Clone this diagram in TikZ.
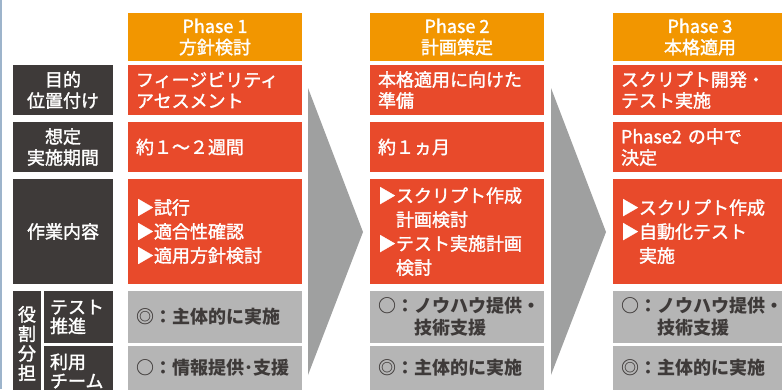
\documentclass[tikz,border=0pt]{standalone}
\usepackage{fontspec}
\setmainfont{Noto Sans CJK JP}
\newfontfamily\medfont[BoldFont={Noto Sans CJK JP}, BoldFeatures={FakeBold=1.6}]{Noto Sans CJK JP}
\definecolor{hdrorange}{HTML}{F29600}
\definecolor{boxred}{HTML}{E84A2B}
\definecolor{darkbox}{HTML}{3E3A39}
\definecolor{graybox}{HTML}{B5B5B5}
\definecolor{arrowgray}{HTML}{9FA0A0}
\definecolor{edgeblue}{HTML}{9DB4CB}
\begin{document}
\begin{tikzpicture}[x=1pt,y=-1pt,
  cellbase/.style={anchor=north west, inner ysep=0pt, outer sep=0pt},
  hdrbox/.style={cellbase, fill=hdrorange, text=white, align=center, minimum width=174pt, minimum height=48pt, inner xsep=0pt, font=\fontsize{18}{21}\selectfont\medfont\bfseries},
  redbox/.style={cellbase, fill=boxred, text=white, align=left, minimum width=174pt, text width=158pt, inner xsep=8pt, font=\fontsize{18}{21}\selectfont\medfont\bfseries},
  redtall/.style={redbox, font=\fontsize{18}{24}\selectfont\medfont\bfseries},
  greybox/.style={cellbase, fill=graybox, text=darkbox, align=left, minimum width=174pt, text width=158pt, inner xsep=8pt, font=\fontsize{18}{22}\selectfont\bfseries},
  labbox/.style={cellbase, fill=darkbox, text=white, align=center, minimum width=100pt, inner xsep=0pt, font=\fontsize{18}{21}\selectfont\medfont\bfseries},
  sublab/.style={cellbase, fill=darkbox, text=white, align=left, minimum width=69pt, text width=57pt, inner xsep=6pt, font=\fontsize{18}{19}\selectfont\medfont\bfseries},
  chevron/.style={fill=arrowgray}
]
\useasboundingbox (0,0) rectangle (782,389);
\clip (0,0) rectangle (782,389);
\fill[white] (0,0) rectangle (782,389);
\fill[edgeblue] (0,0) rectangle (2,389);

% chevrons
\coordinate (c1a) at (308,88); \coordinate (c1b) at (363,232); \coordinate (c1c) at (308,375);
\coordinate (c2a) at (551,88); \coordinate (c2b) at (606,232); \coordinate (c2c) at (551,375);
\fill[chevron] (c1a) -- (c1b) -- (c1c) -- cycle;
\fill[chevron] (c2a) -- (c2b) -- (c2c) -- cycle;

% headers
\node[hdrbox] (h1) at (128,13) {Phase 1\\方針検討};
\node[hdrbox] (h2) at (370,13) {Phase 2\\計画策定};
\node[hdrbox] (h3) at (613,13) {Phase 3\\本格適用};

% label column
\node[labbox, minimum height=50pt] (l1) at (13,65) {目的\\位置付け};
\node[labbox, minimum height=50pt] (l2) at (13,122) {想定\\実施期間};
\node[labbox, minimum height=105pt] (l3) at (13,179) {作業内容};
\node[cellbase, fill=darkbox, text=white, align=center, minimum width=28pt, minimum height=105pt, inner xsep=0pt, font=\fontsize{18}{19.5}\selectfont\medfont\bfseries] (l4) at (13,291) {役\\割\\分\\担};
\node[sublab, minimum height=52pt] (l5) at (44,291) {テスト\\推進};
\node[sublab, minimum height=50pt] (l6) at (44,346) {利用\\チーム};

% phase 1
\node[redbox, minimum height=50pt] (p1r1) at (128,65) {フィージビリティ\\アセスメント};
\node[redbox, minimum height=50pt] (p1r2) at (128,122) {約１～２週間};
\node[redtall, minimum height=105pt] (p1r3) at (128,179) {▶試行\\▶適合性確認\\▶適用方針検討};
\node[greybox, minimum height=52pt] (p1r4) at (128,291) {◎：主体的に実施};
\node[greybox, minimum height=44pt] (p1r5) at (128,346) {○：情報提供･支援};

% phase 2
\node[redbox, minimum height=50pt] (p2r1) at (370,65) {本格適用に向けた\\準備};
\node[redbox, minimum height=50pt] (p2r2) at (370,122) {約１ヵ月};
\node[redtall, minimum height=105pt] (p2r3) at (370,179) {▶スクリプト作成\\　計画検討\\▶テスト実施計画\\　検討};
\node[greybox, minimum height=52pt] (p2r4) at (370,291) {○：ノウハウ提供・\\　　技術支援};
\node[greybox, minimum height=44pt] (p2r5) at (370,346) {◎：主体的に実施};

% phase 3
\node[redbox, minimum height=50pt] (p3r1) at (613,65) {スクリプト開発・\\テスト実施};
\node[redbox, minimum height=50pt] (p3r2) at (613,122) {Phase2 の中で\\決定};
\node[redtall, minimum height=105pt] (p3r3) at (613,179) {▶スクリプト作成\\▶自動化テスト\\　実施};
\node[greybox, minimum height=52pt] (p3r4) at (613,291) {○：ノウハウ提供・\\　　技術支援};
\node[greybox, minimum height=44pt] (p3r5) at (613,346) {◎：主体的に実施};
\end{tikzpicture}
\end{document}
